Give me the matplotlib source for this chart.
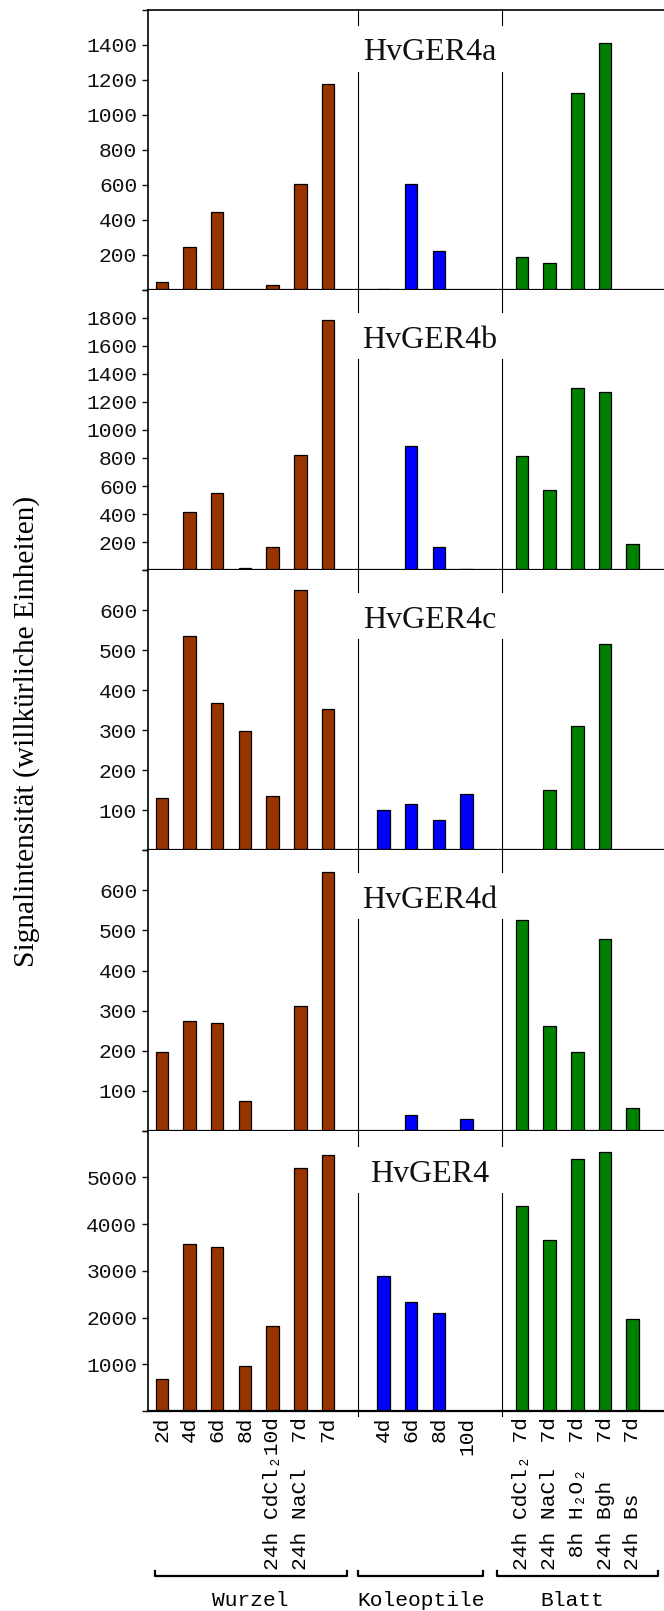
import matplotlib
matplotlib.use("Agg")
import matplotlib.pyplot as plt
from matplotlib.lines import Line2D
from matplotlib.ticker import FixedLocator, FuncFormatter

# ---------------- data ----------------
wurzel_labels = ["2d", "4d", "6d", "8d", "24h CdCl\u208210d", "24h NaCl  7d", "7d"]
kol_labels = ["4d", "6d", "8d", "10d"]
blatt_labels = ["24h CdCl\u2082 7d", "24h NaCl  7d", " 8h H\u2082O\u2082  7d", "24h Bgh   7d", "24h Bs    7d"]
group_names = ["Wurzel", "Koleoptile", "Blatt"]

panel_titles = ["HvGER4a", "HvGER4b", "HvGER4c", "HvGER4d", "HvGER4"]

wurzel_vals = [
    [45, 245, 445, 0, 25, 606, 1176],
    [0, 411, 548, 12, 163, 820, 1785],
    [130, 536, 367, 299, 135, 650, 352],
    [197, 274, 269, 73, 0, 312, 645],
    [695, 3582, 3511, 972, 1823, 5199, 5475],
]
kol_vals = [
    [4, 606, 220, 0],
    [0, 887, 163, 7],
    [100, 116, 76, 142],
    [0, 40, 0, 28],
    [2887, 2340, 2092, 0],
]
blatt_vals = [
    [189, 155, 1121, 1411, 0],
    [813, 574, 1300, 1269, 187],
    [0, 152, 310, 515, 0],
    [526, 262, 197, 479, 57],
    [4390, 3660, 5397, 5539, 1972],
]
y_max = [1600, 2000, 700, 700, 6000]
y_step = [200, 200, 100, 100, 1000]

ylabel = "Signalintensität (willkürliche Einheiten)"

# ---------------- style ----------------
c_wurzel = "#993300"
c_kol = "#0000ff"
c_blatt = "#008000"
mono = ["Liberation Mono", "DejaVu Sans Mono"]
serif = ["Liberation Serif", "DejaVu Serif"]

W, H, DPI = 664, 1611, 100
fig = plt.figure(figsize=(W / DPI, H / DPI), dpi=DPI)

left_px = 148
top0 = 9.5
ph = 280.3
pos_w = list(range(0, 7))
pos_k = list(range(8, 12))
pos_b = list(range(13, 18))
seps = [7.08, 12.28]
title_x = 9.68
title_base_px = [51, 58.5, 58, 58, 51.5]

axes = []
for i in range(5):
    top = top0 + i * ph
    bottom = top + ph
    ax = fig.add_axes([left_px / W, 1 - bottom / H, 1 - left_px / W, ph / H])
    axes.append(ax)
    bw = 0.45
    ax.bar(pos_w, wurzel_vals[i], width=bw, color=c_wurzel, edgecolor="black", linewidth=0.9, zorder=3)
    ax.bar(pos_k, kol_vals[i], width=bw, color=c_kol, edgecolor="black", linewidth=0.9, zorder=3)
    ax.bar(pos_b, blatt_vals[i], width=bw, color=c_blatt, edgecolor="black", linewidth=0.9, zorder=3)
    ax.set_xlim(-0.5, 18.13)
    ax.set_ylim(0, y_max[i])

    ticks = list(range(0, y_max[i] + 1, y_step[i]))
    ax.yaxis.set_major_locator(FixedLocator(ticks))
    top_v = y_max[i]
    ax.yaxis.set_major_formatter(FuncFormatter(lambda v, p, t=top_v: "" if (v == 0 or v == t) else "%d" % v))
    ax.tick_params(axis="y", direction="out", length=4.3, width=1.0, pad=3.5,
                   labelsize=15.3, colors="#111111")
    for lab in ax.get_yticklabels():
        lab.set_fontfamily(mono)

    ax.spines["right"].set_visible(False)
    ax.spines["top"].set_visible(i == 0)
    ax.spines["top"].set_linewidth(1.2)
    ax.spines["left"].set_linewidth(1.2)
    ax.spines["bottom"].set_linewidth(1.6)
    ax.spines["bottom"].set_zorder(4)

    # separators with a gap for the title
    base = title_base_px[i]
    gap_top = 1 - (base - 36) / ph
    gap_bot = 1 - (base + 11) / ph
    ymin0 = -4.5 / ph if i == 4 else 0
    for sx in seps:
        ax.axvline(sx, ymin=ymin0, ymax=gap_bot, color="black", lw=0.8, clip_on=False, zorder=2)
        ax.axvline(sx, ymin=gap_top, ymax=1, color="black", lw=0.8, clip_on=False, zorder=2)
    ax.text(title_x, 1 - base / ph, panel_titles[i], transform=ax.get_xaxis_transform(),
            ha="center", va="baseline", fontsize=23, family=serif, color="#111111")

    if i < 4:
        ax.set_xticks([])
    else:
        ax.set_xticks(pos_w + pos_k + pos_b)
        ax.set_xticklabels(wurzel_labels + kol_labels + blatt_labels, rotation=90,
                           ha="center", va="top", fontsize=15.3, fontfamily=mono)
        ax.tick_params(axis="x", length=0, pad=4)

# y label
fig.text(27 / W, 1 - 731 / H, ylabel, rotation=90, ha="center", va="center",
         fontsize=21.2, family=serif)

# group brackets (pixel layout)
brackets = [(155, 346.7), (358, 483.3), (496.7, 658.3)]
text_x = [250, 421, 572.5]
by, bend = 1576, 1571
for (x0, x1), tx, name in zip(brackets, text_x, group_names):
    xs = [x0 / W, x0 / W, x1 / W, x1 / W]
    ys = [1 - bend / H, 1 - by / H, 1 - by / H, 1 - bend / H]
    fig.add_artist(Line2D(xs, ys, color="black", lw=1.6, transform=fig.transFigure))
    fig.text(tx / W, 1 - 1600 / H, name, ha="center", va="center", fontsize=15.3, family=mono)

fig.savefig("out.png", dpi=DPI)
